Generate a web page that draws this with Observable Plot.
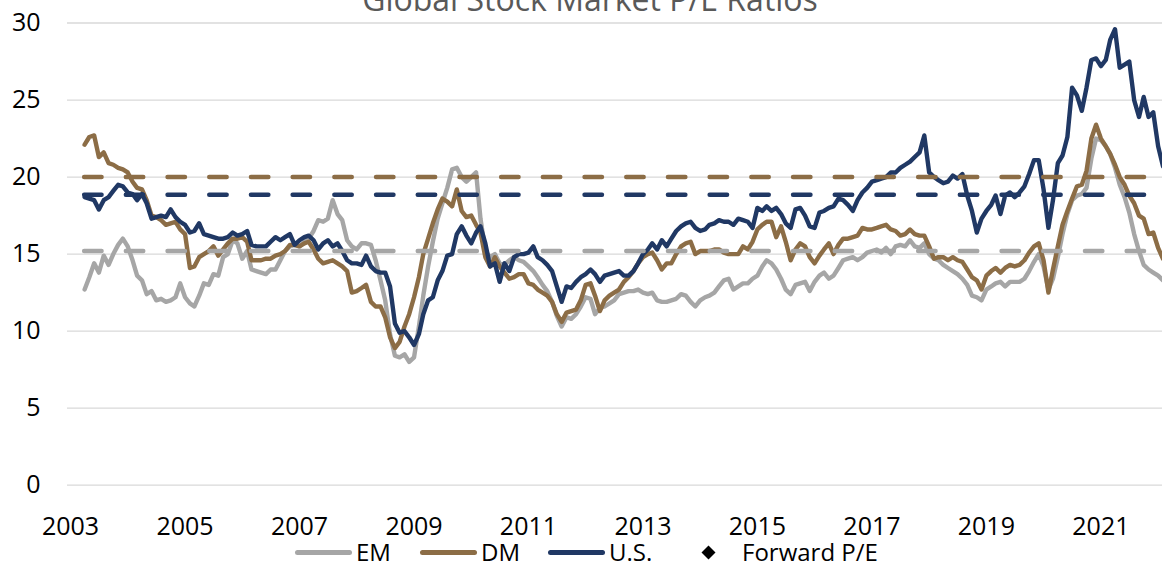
<!DOCTYPE html>
<html><head><meta charset="utf-8">
<script src="https://cdn.jsdelivr.net/npm/d3@7"></script>
<script src="https://cdn.jsdelivr.net/npm/@observablehq/plot@0.6"></script>
<style>
body{margin:0;background:#fff;font-family:"Open Sans",sans-serif;}
#wrap{position:relative;width:1162px;height:563px;overflow:hidden;background:#fff;}
#title{position:absolute;left:0;width:1180px;top:-17px;text-align:center;font-size:32px;line-height:32px;color:#595959;white-space:nowrap;}
#chart{position:absolute;left:0;top:0;}
.leg{position:absolute;top:542px;height:20px;display:flex;align-items:center;font-size:24px;line-height:20px;color:#000;white-space:nowrap;}
.sw{width:57px;height:5px;border-radius:3px;margin-right:4px;}
</style></head>
<body><div id="wrap">
<div id="chart"></div>
<div id="title">Global Stock Market P/E Ratios</div>
<div class="leg" style="left:295px"><div class="sw" style="background:#A6A6A6"></div><span>EM</span></div>
<div class="leg" style="left:420px"><div class="sw" style="background:#8C6D46"></div><span>DM</span></div>
<div class="leg" style="left:548px"><div class="sw" style="background:#203864"></div><span>U.S.</span></div>
<div class="leg" style="left:701px"><svg width="15" height="15" style="margin-right:26px"><polygon points="7.5,0.5 14.5,7.5 7.5,14.5 0.5,7.5" fill="#000"/></svg><span>Forward P/E</span></div>
</div>
<script>
// monthly data starting April 2003
const startYear = 2003, startMonth = 3;
const seriesNames = ["EM", "DM", "U.S."];
const seriesColors = ["#A6A6A6", "#8C6D46", "#203864"];
const averages = [15.2, 20.0, 18.85];
const yTicks = [0, 5, 10, 15, 20, 25, 30];
const xTickYears = [2003, 2005, 2007, 2009, 2011, 2013, 2015, 2017, 2019, 2021];

const em = [
12.7,13.5,14.4,13.8,14.9,14.3,15.0,15.6,16.0,15.5,
14.6,13.6,13.3,12.4,12.6,12.0,12.1,11.9,12.0,12.2,
13.1,12.2,11.8,11.6,12.3,13.1,13.0,13.7,13.6,14.8,
15.0,15.9,15.7,14.7,15.2,14.0,13.9,13.8,13.7,14.0,
14.0,14.6,15.2,15.5,15.6,15.5,15.8,16.0,16.5,17.2,
17.1,17.3,18.5,17.6,17.2,15.9,15.5,15.3,15.7,15.7,
15.6,14.6,13.3,12.0,9.8,8.4,8.3,8.5,8.0,8.3,
10.3,12.3,14.2,15.8,17.3,18.3,19.3,20.5,20.6,20.0,
19.7,20.0,20.3,17.3,15.2,14.8,15.0,14.4,14.3,14.6,
14.8,14.6,14.5,14.2,13.9,13.5,13.0,12.6,11.9,11.0,
10.3,10.9,10.8,11.1,11.6,12.2,12.1,11.1,11.5,11.6,
11.8,12.0,12.4,12.5,12.6,12.6,12.7,12.5,12.4,12.5,
12.0,11.9,11.9,12.0,12.1,12.4,12.3,11.9,11.6,12.0,
12.2,12.3,12.5,12.9,13.3,13.4,12.7,12.9,13.1,13.1,
13.4,13.6,14.2,14.6,14.4,14.0,13.4,12.7,12.4,13.0,
13.1,13.2,12.6,13.2,13.6,13.8,13.4,13.6,14.1,14.6,
14.7,14.8,14.6,14.8,15.1,15.2,15.3,15.1,15.4,15.0,
15.5,15.6,15.5,15.9,15.5,15.4,15.7,15.0,14.7,14.6,
14.3,14.1,13.9,13.7,13.4,13.0,12.3,12.2,12.0,12.7,
12.9,13.1,13.2,12.9,13.2,13.2,13.2,13.4,13.9,14.5,
15.0,14.2,12.7,13.4,14.8,16.3,17.6,18.5,18.8,18.9,
19.3,21.2,22.5,22.4,22.0,21.5,20.6,19.5,18.7,17.7,
16.3,15.2,14.3,14.0,13.8,13.6,13.3];

const dm = [
22.1,22.6,22.7,21.3,21.6,20.9,20.8,20.6,20.5,20.3,
19.7,19.3,19.2,18.5,17.5,17.4,17.2,16.9,17.0,17.1,
16.6,16.3,14.1,14.2,14.8,15.0,15.2,15.5,14.9,15.3,
15.7,16.0,16.0,16.1,15.8,14.6,14.6,14.6,14.7,14.7,
14.9,15.0,15.2,15.6,15.6,15.5,15.7,15.8,15.3,14.7,
14.4,14.5,14.6,14.4,14.2,13.9,12.5,12.6,12.8,13.0,
11.9,11.6,11.6,10.9,9.6,8.9,9.3,10.3,11.1,12.2,
13.5,15.0,16.0,17.0,17.9,18.6,18.4,18.1,19.2,17.8,
17.4,17.5,16.9,16.4,14.8,14.2,14.8,14.2,13.8,13.4,
13.5,13.7,13.7,13.1,13.0,12.7,12.5,12.3,11.9,11.1,
10.6,11.2,11.3,11.4,12.0,13.0,13.1,12.3,11.3,12.0,
12.3,12.5,12.7,13.2,13.5,13.9,14.4,14.8,15.0,15.1,
14.6,14.0,14.4,14.4,15.0,15.5,15.7,15.8,15.0,15.2,
15.2,15.2,15.3,15.3,15.1,15.0,15.0,15.0,15.5,15.3,
15.8,16.6,16.9,17.1,17.1,16.1,16.8,15.8,14.6,15.3,
15.7,15.5,14.8,14.4,14.9,15.3,15.7,15.0,15.6,16.0,
16.0,16.1,16.2,16.7,16.6,16.6,16.7,16.8,16.9,16.6,
16.5,16.2,16.3,16.6,16.3,16.2,16.2,15.5,14.7,14.8,
14.8,14.6,14.8,14.6,14.5,14.0,13.5,13.3,12.7,13.6,
13.9,14.1,13.8,14.1,14.3,14.2,14.3,14.6,15.1,15.5,
15.7,14.6,12.5,14.0,15.5,16.9,17.8,18.6,19.4,19.5,
20.4,22.5,23.4,22.5,22.0,21.5,20.8,20.0,19.5,18.8,
18.3,17.5,17.3,16.3,16.4,15.4,14.7];

const us = [
18.7,18.6,18.5,17.9,18.5,18.7,19.1,19.5,19.4,19.0,
18.9,18.5,18.9,18.3,17.3,17.4,17.5,17.4,17.9,17.4,
17.1,16.9,16.4,16.5,17.0,16.3,16.2,16.1,16.0,16.0,
16.1,16.4,16.2,16.3,16.5,15.6,15.5,15.5,15.5,15.8,
16.1,15.9,16.1,16.3,15.6,15.9,16.1,16.2,15.9,15.3,
15.7,15.9,15.5,15.7,15.2,14.6,14.4,14.4,14.3,14.9,
14.2,13.9,13.8,13.8,12.9,10.5,9.9,10.0,9.6,9.1,
9.8,11.1,12.0,12.2,13.3,13.9,14.9,15.0,16.3,16.8,
16.2,15.7,16.4,16.8,15.7,14.2,14.4,13.2,14.4,13.9,
14.8,15.0,15.0,15.1,15.5,14.8,14.6,14.3,13.9,12.9,
11.9,12.9,12.8,13.2,13.5,13.7,14.0,13.7,13.2,13.6,
13.7,13.8,13.9,13.6,13.6,13.9,14.4,15.0,15.3,15.7,
15.3,15.9,15.5,16.0,16.5,16.8,17.0,17.1,16.7,16.5,
16.6,16.9,17.0,17.2,17.1,17.1,16.9,17.3,17.2,17.1,
16.7,18.0,17.8,18.1,17.8,18.0,17.6,17.0,16.7,17.9,
18.0,17.5,16.8,16.7,17.7,17.8,18.0,18.1,18.6,18.5,
18.2,17.8,18.5,19.0,19.3,19.7,19.8,19.9,20.0,20.3,
20.3,20.6,20.8,21.0,21.3,21.6,22.7,20.3,20.0,19.8,
19.6,19.7,20.1,19.9,20.2,18.8,17.8,16.4,17.3,17.8,
18.2,18.8,17.6,18.8,19.0,18.7,19.0,19.4,20.2,21.1,
21.1,19.2,16.7,18.5,20.9,21.4,22.6,25.8,25.3,24.3,
25.8,27.6,27.7,27.2,27.6,28.9,29.6,27.1,27.3,27.5,
25.0,23.9,25.2,23.9,24.2,22.0,20.7];

const seriesValues = [em, dm, us];
const dateAt = i => new Date(Date.UTC(startYear, startMonth + i, 1));
const mpm = 365.2425 / 12 * 86400000;
const t0 = Date.UTC(2003, 0, 1);
const xDomain = [new Date(t0 - 0.63 * mpm), new Date(t0 + 228.93 * mpm)];
const lastDate = dateAt(em.length - 1);

const lineMarks = seriesValues.map((vals, k) =>
  Plot.line(vals.map((v, i) => ({date: dateAt(i), value: v})), {
    x: "date", y: "value", stroke: seriesColors[k], strokeWidth: 4.4,
    strokeLinejoin: "round", strokeLinecap: "round", clip: true
  }));
const avgMarks = averages.map((a, k) =>
  Plot.ruleY([{y: a, x1: dateAt(0), x2: lastDate}], {
    y: "y", x1: "x1", x2: "x2", stroke: seriesColors[k], strokeWidth: 4.4,
    strokeDasharray: "17.5,24.2", strokeLinecap: "round", clip: true
  }));

const chart = Plot.plot({
  width: 1162, height: 538,
  marginLeft: 67, marginRight: 0, marginTop: 22.5, marginBottom: 53.3,
  style: {fontFamily: "'Open Sans', sans-serif", fontSize: "25px", color: "#000", background: "transparent", overflow: "visible"},
  x: {type: "utc", domain: xDomain},
  y: {domain: [0, 30]},
  marks: [
    Plot.ruleY(yTicks, {stroke: "#d9d9d9", strokeWidth: 1.3}),
    Plot.axisY(yTicks, {tickSize: 0, tickPadding: 27, fontSize: 25, label: null, fill: "#000"}),
    Plot.axisX(xTickYears.map(y => new Date(Date.UTC(y, 0, 1))), {tickSize: 0, tickPadding: 32.5, fontSize: 25, label: null, tickFormat: d3.utcFormat("%Y"), fill: "#000"}),
    ...lineMarks,
    ...avgMarks
  ]
});
document.getElementById("chart").appendChild(chart);
</script>
</body></html>
